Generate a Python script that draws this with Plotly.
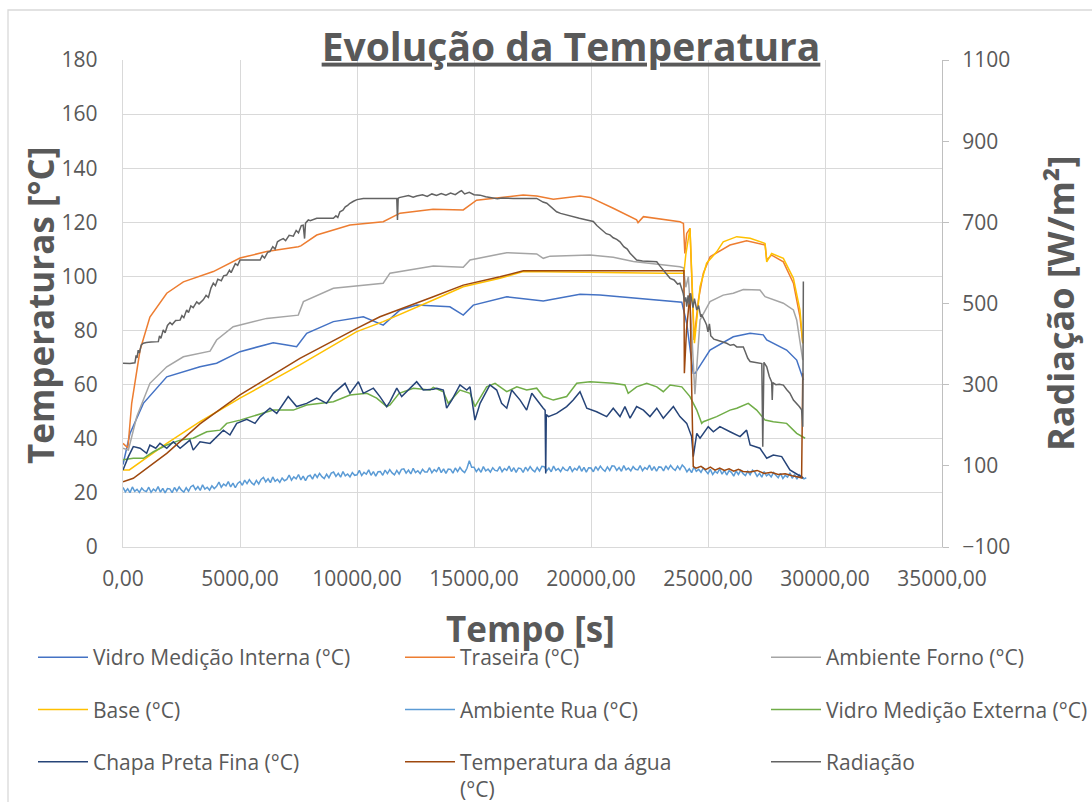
import plotly.graph_objects as go

# ---------------- DATA ----------------
x_tick_vals = [0, 5000, 10000, 15000, 20000, 25000, 30000, 35000]
x_tick_text = ["0,00", "5000,00", "10000,00", "15000,00", "20000,00", "25000,00", "30000,00", "35000,00"]
y_tick_vals = [0, 20, 40, 60, 80, 100, 120, 140, 160, 180]
y2_tick_vals = [-100, 100, 300, 500, 700, 900, 1100]

# Vidro Medição Interna (°C)
t_vidro_int = [0, 300, 870, 1870, 3290, 4000, 5000, 6420, 7000, 7420, 7850, 8990, 10270, 11120, 11840,
               12550, 13970, 14540, 14970, 16400, 17960, 19530, 20380, 23800, 23880, 24090, 24370, 24450,
               25085, 26080, 26800, 27360, 27510, 28360, 28790, 29080]
v_vidro_int = [30.5, 42.0, 53.1, 62.9, 66.6, 67.9, 72.2, 75.5, 74.7, 74.0, 79.0, 83.3, 85.1, 82.0, 87.6,
               89.4, 88.8, 85.7, 89.4, 92.5, 90.9, 93.4, 93.1, 90.7, 90.5, 82.7, 64.2, 64.2,
               72.8, 77.7, 79.0, 78.4, 76.5, 72.8, 69.1, 61.7]

# Traseira (°C)
t_traseira = [0, 210, 370, 730, 1150, 1870, 2580, 3720, 3860, 5000, 6140, 7490, 7600, 8280, 9700, 11120,
              11300, 11840, 13250, 14540, 15110, 16110, 17100, 17680, 18390, 19530, 19960, 20950, 21950,
              22010, 22240, 23800, 23950, 24010, 24090, 24230, 24350, 24400, 24590, 24800, 25090, 25440,
              25940, 26650, 27440, 27510, 27720, 28220, 28650, 28930, 29050]
v_traseira = [38.3, 36.6, 53.0, 72.8, 85.0, 93.8, 98.0, 101.2, 101.8, 106.8, 109.2, 111.0, 111.3, 115.3,
              119.0, 120.2, 121.0, 123.4, 124.8, 124.6, 128.2, 129.2, 130.1, 129.7, 128.5, 129.7, 129.2,
              125.2, 120.9, 119.9, 122.1, 120.2, 119.6, 108.5, 115.9, 117.8, 91.3, 76.5, 91.3, 101.2,
              107.3, 109.1, 111.6, 113.2, 111.6, 106.1, 107.9, 105.4, 97.5, 85.1, 75.3]

# Ambiente Forno (°C)
t_forno = [0, 230, 590, 1150, 1870, 2580, 3720, 4000, 4710, 6140, 7490, 7710, 8990, 11120, 11410, 13260,
           14540, 14830, 16110, 16400, 17680, 17960, 18250, 19960, 20950, 21810, 23800, 23950, 24050, 24160,
           24300, 24440, 24660, 24950, 25085, 25650, 26080, 26510, 27220, 27440, 28220, 28650, 28790, 29050]
v_forno = [36.5, 35.8, 48.2, 60.5, 66.6, 70.3, 72.4, 76.5, 81.4, 84.5, 85.7, 90.7, 95.6, 97.5, 101.2, 103.9,
           103.4, 106.1, 108.3, 108.8, 108.3, 106.7, 107.5, 107.9, 107.1, 105.5, 103.6, 103.2, 96.0, 99.9,
           80.0, 56.5, 83.9, 88.8, 90.7, 93.1, 93.8, 95.2, 95.0, 92.5, 90.1, 87.6, 83.9, 69.1]

# Base (°C)
t_base = [0, 270, 1870, 3290, 5000, 7560, 9990, 11120, 13260, 14540, 16110, 17110, 23090, 23970, 24050,
          24230, 24420, 24660, 24940, 25370, 25650, 26230, 26800, 27440, 27510, 27720, 28220, 28650, 28930, 29050]
v_base = [28.5, 28.5, 38.3, 46.3, 55.0, 67.3, 79.6, 83.3, 91.3, 96.2, 99.3, 101.8, 101.2, 101.2, 108.0,
          117.8, 75.3, 96.2, 104.9, 109.1, 112.8, 114.7, 114.1, 112.2, 105.4, 108.5, 106.7, 99.3, 87.6, 75.3]

# Ambiente Rua (°C) - sampled every 100 s
t_rua = list(range(0, 29201, 100))
v_rua = [22.0, 20.4, 21.5, 20.1, 22.2, 20.6, 21.3, 20.2, 21.8, 20.8,
         20.5, 22.1, 20.2, 21.4, 20.7, 22.3, 20.3, 21.7, 20.0, 21.6,
         21.5, 20.1, 22.0, 20.7, 22.2, 21.0, 20.3, 21.9, 20.6, 22.3,
         22.8, 21.2, 22.3, 20.9, 23.0, 21.4, 22.1, 21.0, 22.6, 21.6,
         22.4, 24.0, 22.1, 23.3, 22.6, 24.2, 22.2, 23.6, 21.9, 23.5,
         24.2, 22.8, 24.7, 23.4, 24.9, 23.7, 23.0, 24.6, 23.3, 25.0,
         25.7, 24.1, 25.2, 23.8, 25.9, 24.3, 25.0, 23.9, 25.5, 24.5,
         25.0, 26.6, 24.7, 25.9, 25.2, 26.8, 24.8, 26.2, 24.5, 26.1,
         26.5, 25.1, 27.0, 25.7, 27.2, 26.0, 25.3, 26.9, 25.6, 27.3,
         27.7, 26.1, 27.2, 25.8, 27.9, 26.3, 27.0, 25.9, 27.5, 26.5,
         26.7, 28.3, 26.4, 27.6, 26.9, 28.5, 26.5, 27.9, 26.2, 27.8,
         27.9, 26.5, 28.4, 27.1, 28.6, 27.4, 26.7, 28.3, 27.0, 28.7,
         28.9, 27.3, 28.4, 27.0, 29.1, 27.5, 28.2, 27.1, 28.7, 27.7,
         27.7, 29.3, 27.4, 28.6, 27.9, 29.5, 27.5, 28.9, 27.2, 28.8,
         28.7, 27.3, 29.2, 27.9, 29.4, 28.2, 27.5, 29.1, 31.9, 29.5,
         29.5, 27.9, 29.0, 27.6, 29.7, 28.1, 28.8, 27.7, 29.3, 28.3,
         28.1, 29.7, 27.8, 29.0, 28.3, 29.9, 27.9, 29.3, 27.6, 29.2,
         29.0, 27.6, 29.5, 28.2, 29.7, 28.5, 27.8, 29.4, 28.1, 29.8,
         29.7, 28.1, 29.2, 27.8, 29.9, 28.3, 29.0, 27.9, 29.5, 28.5,
         28.2, 29.8, 27.9, 29.1, 28.4, 30.0, 28.0, 29.4, 27.7, 29.3,
         29.2, 27.8, 29.7, 28.4, 29.9, 28.7, 28.0, 29.6, 28.3, 30.0,
         29.9, 28.3, 29.4, 28.0, 30.1, 28.5, 29.2, 28.1, 29.7, 28.7,
         28.5, 30.1, 28.2, 29.4, 28.7, 30.3, 28.3, 29.7, 28.0, 29.6,
         29.5, 28.1, 30.0, 28.7, 30.2, 29.0, 28.3, 29.9, 28.6, 30.3,
         29.4, 27.8, 28.9, 27.5, 29.6, 28.0, 28.7, 27.6, 29.2, 28.2,
         27.1, 28.7, 26.8, 28.0, 27.3, 28.9, 26.9, 28.3, 26.6, 28.2,
         27.6, 26.2, 28.1, 26.8, 28.3, 27.1, 26.4, 28.0, 26.7, 28.4,
         27.7, 26.1, 27.2, 25.8, 27.9, 26.3, 27.0, 25.9, 27.5, 26.5,
         25.6, 27.2, 25.3, 26.5, 25.8, 27.4, 25.4, 26.8, 25.1, 26.7,
         25.9, 25.2, 25.6]

# Vidro Medição Externa (°C)
t_vidro_ext = [0, 440, 870, 1300, 1870, 2440, 3000, 3580, 4150, 4430, 5000, 5710, 6420, 7280, 7850, 8990,
               9700, 10420, 10840, 11270, 11410, 11800, 12410, 13120, 13260, 13690, 13900, 14400, 14830,
               15040, 15540, 15900, 16400, 16830, 17250, 17680, 17960, 18390, 18960, 19390, 19960, 20950,
               21450, 21590, 21950, 22380, 22810, 23090, 23380, 23880, 24230, 24520, 24730, 24800, 25370,
               25940, 26230, 26720, 27080, 27440, 27790, 28360, 28790, 29150]
v_vidro_ext = [32.2, 32.8, 32.8, 35.2, 37.7, 39.5, 40.2, 42.6, 43.2, 45.7, 46.9, 48.8, 50.6, 50.6, 52.5, 53.7,
               56.2, 56.8, 55.0, 51.9, 52.5, 56.8, 58.7, 58.0, 59.0, 57.4, 53.1, 58.0, 56.8,
               51.9, 59.2, 60.5, 57.4, 59.2, 58.0, 58.7, 55.6, 54.3, 55.6, 60.5, 61.1, 60.5,
               59.9, 56.8, 59.2, 60.5, 59.2, 57.4, 59.9, 59.2, 55.6, 50.6, 45.7, 46.3, 48.2,
               50.6, 51.3, 53.1, 50.6, 46.9, 46.3, 45.7, 42.0, 40.2]

# Chapa Preta Fina (°C)
t_chapa = [0, 230, 440, 730, 1010, 1150, 1400, 1580, 1870, 2150, 2440, 2860, 3000, 3290, 3720, 4290, 4570,
           4860, 5290, 5640, 5860, 6280, 6570, 7060, 7420, 7850, 8280, 8700, 8990, 9490, 9700, 10060, 10270,
           10700, 10980, 11270, 11410, 11700, 11910, 12550, 12830, 13260, 13410, 13690, 13830, 14050, 14400,
           14690, 14830, 15040, 15260, 15680, 15970, 16180, 16400, 16610, 16970, 17250, 17470, 17680, 17960,
           18040, 18064, 18090, 18180, 18530, 18960, 19240, 19530, 19820, 20240, 20670, 20950, 21240, 21450,
           21670, 21950, 22240, 22520, 22810, 23090, 23520, 23800, 24090, 24300, 24370, 24520, 24660, 25010,
           25230, 25510, 25940, 26370, 26650, 26800, 27220, 27510, 27790, 28150, 28500, 29000, 29070]
v_chapa = [28.5, 33.4, 37.1, 36.5, 34.6, 37.7, 36.5, 38.3, 36.5, 38.9, 36.5, 39.5, 35.8, 38.9, 38.3, 43.2, 41.4,
           45.7, 47.2, 45.7, 48.2, 51.3, 49.4, 55.6, 51.9, 53.1, 55.0, 53.1, 56.8, 60.5, 56.8, 61.1, 56.8,
           58.7, 55.6, 51.9, 53.7, 58.7, 55.6, 61.1, 58.0, 58.3, 58.7, 58.0, 51.3, 54.3, 59.9,
           58.0, 59.2, 46.9, 53.1, 59.9, 58.0, 53.1, 51.3, 58.0, 54.3, 50.6, 56.8, 54.3, 51.3,
           50.5, 27.2, 49.0, 48.2, 49.4, 51.9, 54.3, 57.4, 51.3, 50.0, 48.2, 51.3, 48.2, 51.9,
           47.6, 51.9, 50.6, 48.2, 51.3, 47.6, 51.9, 48.2, 45.7, 40.8, 33.4, 42.0, 40.2, 44.5,
           42.6, 44.5, 42.6, 40.8, 43.2, 37.7, 36.5, 32.8, 34.0, 33.4, 28.5, 26.0, 25.5]

# Temperatura da água (°C)
t_agua = [0, 440, 1870, 3290, 5000, 7560, 9990, 10980, 13260, 14540, 16110, 17110, 23970, 23990, 24080,
          24230, 24300, 24370, 24490, 24700, 24900, 25100, 25300, 25500, 25700, 25900, 26100, 26300, 26500,
          26800, 27100, 27400, 27700, 28000, 28300, 28600, 28900, 29000, 29050]
v_agua = [24.1, 25.4, 34.6, 45.5, 56.2, 69.7, 80.8, 85.1, 92.5, 96.8, 99.9, 102.1, 102.1, 64.2, 80.0,
          93.8, 60.0, 29.7, 29.1, 29.8, 28.6, 29.5, 28.4, 29.2, 28.3, 28.9, 28.0, 28.7, 27.9,
          27.7, 28.3, 27.2, 27.6, 26.8, 27.1, 26.3, 25.8, 25.5, 64.2]

# Radiação (W/m²)
t_rad = [0, 300, 510, 560, 600, 650, 700, 780, 870, 1000, 1200, 1510, 1560, 1620, 1720, 1800, 1900, 2010,
         2100, 2250, 2440, 2520, 2600, 2720, 2800, 2900, 3000, 3150, 3250, 3430, 3550, 3650, 3760, 3860,
         3950, 4050, 4200, 4300, 4430, 4550, 4620, 4710, 4800, 4900, 5000, 5860, 5950, 6050, 6180, 6280,
         6400, 6500, 6600, 6710, 6850, 6950, 7100, 7280, 7400, 7500, 7620, 7700, 7760, 7800, 7920, 8000,
         8280, 8990, 9100, 9180, 9270, 9400, 9500, 9600, 9700, 9850, 10000, 10270, 11700, 11730, 11760,
         11800, 12000, 12200, 12400, 12550, 12800, 13000, 13200, 13400, 13600, 13800, 14000, 14200, 14400,
         14470, 14600, 14800, 15000, 15260, 15500, 15800, 16000, 16200, 16680, 17680, 17800, 17950, 18110,
         18250, 18400, 18530, 18700, 18960, 19200, 19500, 19820, 20100, 20250, 20380, 20500, 20650, 20810,
         20950, 21100, 21240, 21400, 21550, 21670, 21800, 21950, 22200, 22500, 22810, 22950, 23090, 23200,
         23380, 23550, 23700, 23800, 23900, 23940, 24000, 24050, 24090, 24150, 24200, 24260, 24300, 24360,
         24420, 24520, 24600, 24680, 24730, 24800, 24880, 24940, 25000, 25060, 25120, 25160, 25250, 25370,
         25500, 25650, 25800, 25950, 26100, 26230, 26400, 26510, 26600, 26700, 26800, 27000, 27220, 27300,
         27340, 27390, 27510, 27620, 27720, 27745, 27770, 27900, 28050, 28220, 28360, 28500, 28650, 28790,
         28900, 29000, 29050, 29075]
v_rad = [353, 352, 354, 372, 366, 385, 378, 398, 402, 404, 405, 406, 420, 414, 435, 428, 446, 453,
         448, 458, 459, 470, 465, 484, 478, 494, 490, 504, 499, 509, 520, 515, 538, 550,
         544, 560, 556, 568, 570, 582, 576, 587, 598, 594, 607, 607, 618, 612, 626, 628,
         640, 634, 652, 656, 660, 655, 668, 666, 680, 674, 692, 693, 660, 698, 706, 704,
         710, 710, 716, 712, 726, 730, 738, 742, 747, 752, 756, 759, 759, 706, 759,
         761, 763, 766, 762, 765, 768, 764, 770, 766, 771, 767, 772, 768, 776,
         778, 770, 774, 768, 767, 763, 760, 758, 760, 759, 759, 754, 750, 747,
         740, 732, 726, 722, 718, 713, 710, 706, 702, 692, 685, 680, 672, 669,
         662, 658, 652, 640, 634, 624, 615, 607, 605, 604, 603, 592, 583, 575,
         562, 558, 548, 550, 530, 525, 505, 515, 492, 520, 498, 525, 509, 490,
         512, 484, 495, 470, 472, 462, 455, 447, 430, 450, 420, 418, 412, 410,
         408, 404, 402, 397, 399, 393, 394, 393, 380, 365, 357, 355, 353, 352,
         147, 355, 344, 320, 307, 262, 305, 300, 301, 299, 288, 279, 262, 254,
         246, 238, 196, 554]

# ---------------- FIGURE ----------------
TXT = "#595959"
FONT = "Open Sans"

series = [
    ("Vidro Medição Interna (°C)", t_vidro_int, v_vidro_int, "#4472C4", "y", "legend"),
    ("Traseira (°C)", t_traseira, v_traseira, "#ED7D31", "y", "legend2"),
    ("Ambiente Forno (°C)", t_forno, v_forno, "#A5A5A5", "y", "legend3"),
    ("Base (°C)", t_base, v_base, "#FFC000", "y", "legend"),
    ("Ambiente Rua (°C)", t_rua, v_rua, "#5B9BD5", "y", "legend2"),
    ("Vidro Medição Externa (°C)", t_vidro_ext, v_vidro_ext, "#70AD47", "y", "legend3"),
    ("Chapa Preta Fina (°C)", t_chapa, v_chapa, "#264478", "y", "legend"),
    ("Temperatura da água<br>(°C)", t_agua, v_agua, "#9E480E", "y", "legend2"),
    ("Radiação", t_rad, v_rad, "#636363", "y2", "legend3"),
]

fig = go.Figure()
for name, t, v, color, yax, leg in series:
    fig.add_trace(go.Scatter(
        x=t, y=v, name=name, mode="lines", yaxis=yax, legend=leg, legendgroup=name,
        line=dict(color=color, width=1.5),
    ))

legend_common = dict(
    orientation="v", xref="container", yref="container", xanchor="left", yanchor="top",
    font=dict(family=FONT, size=21, color=TXT), bgcolor="rgba(0,0,0,0)",
    tracegroupgap=22, valign="top", itemwidth=50,
)
leg_y = 1 - 637 / 802

fig.update_layout(
    width=1092, height=802,
    margin=dict(l=123, r=150, t=60, b=255, autoexpand=False),
    paper_bgcolor="white", plot_bgcolor="white",
    font=dict(family=FONT, color=TXT),
    title=dict(
        text="<b>Evolução da Temperatura</b>",
        x=571 / 1092, xref="container", xanchor="center",
        y=1 - 47 / 802, yref="container", yanchor="middle",
        font=dict(family=FONT, size=39, color=TXT, lineposition="under"),
    ),
    xaxis=dict(
        range=[0, 35000], tickvals=x_tick_vals, ticktext=x_tick_text,
        showgrid=True, gridcolor="#d9d9d9", gridwidth=1.3,
        showline=True, linecolor="#d9d9d9", linewidth=1.3,
        zeroline=False, ticks="", ticklabelstandoff=13,
        tickfont=dict(family=FONT, size=21, color=TXT),
    ),
    yaxis=dict(
        range=[0, 180], tickvals=y_tick_vals,
        showgrid=True, gridcolor="#d9d9d9", gridwidth=1.3,
        showline=True, linecolor="#d9d9d9", linewidth=1.3,
        zeroline=False, ticks="", ticklabelstandoff=20,
        tickfont=dict(family=FONT, size=21, color=TXT),
    ),
    yaxis2=dict(
        range=[-100, 1100], tickvals=y2_tick_vals, overlaying="y", side="right",
        showgrid=False, zeroline=False,
        showline=True, linecolor="#bfbfbf", linewidth=1.3,
        ticks="outside", ticklen=6, tickcolor="#bfbfbf", tickwidth=1.3, ticklabelstandoff=9,
        tickfont=dict(family=FONT, size=21, color=TXT),
    ),
    legend=dict(legend_common, x=33 / 1092, y=leg_y),
    legend2=dict(legend_common, x=400 / 1092, y=leg_y),
    legend3=dict(legend_common, x=766 / 1092, y=leg_y),
    showlegend=True,
)

# axis titles as annotations
fig.add_annotation(text="<b>Temperaturas [°C]</b>", xref="paper", yref="paper",
                   x=(40 - 123) / 819, y=(547 - 306) / 487, textangle=-90, showarrow=False,
                   font=dict(family=FONT, size=35, color=TXT), xanchor="center", yanchor="middle")
fig.add_annotation(text="<b>Radiação [W/m²]</b>", xref="paper", yref="paper",
                   x=(1060 - 123) / 819, y=(547 - 304) / 487, textangle=-90, showarrow=False,
                   font=dict(family=FONT, size=36, color=TXT), xanchor="center", yanchor="middle")
fig.add_annotation(text="<b>Tempo [s]</b>", xref="paper", yref="paper",
                   x=(530 - 123) / 819, y=(547 - 628) / 487, showarrow=False,
                   font=dict(family=FONT, size=35, color=TXT), xanchor="center", yanchor="middle")

# outer chart border (chart area frame, cropped at right/bottom)
fig.add_shape(type="rect", xref="paper", yref="paper",
              x0=(8 - 123) / 819, x1=(1200 - 123) / 819,
              y0=(547 - 900) / 487, y1=(547 - 10) / 487,
              line=dict(color="#d9d9d9", width=1.3), layer="below")

fig.write_html("out.html", config={"displayModeBar": False},
               post_script="document.body.style.margin='0';document.body.style.overflow='hidden';")
